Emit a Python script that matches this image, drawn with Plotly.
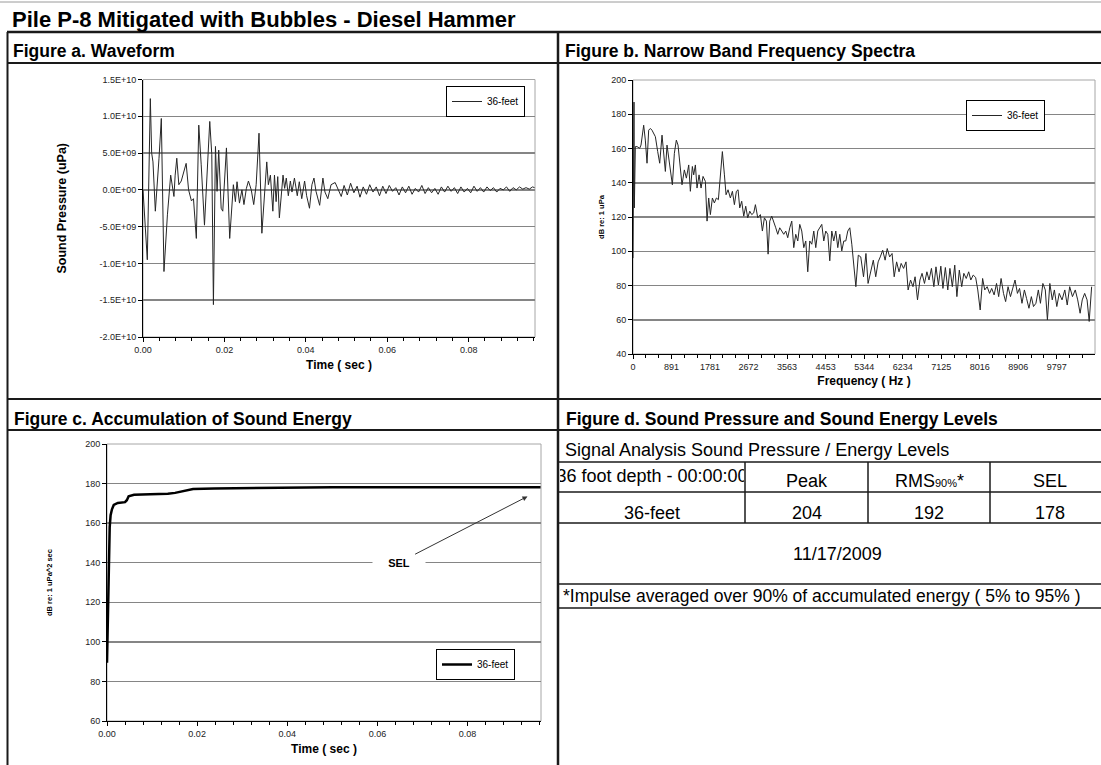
import plotly.graph_objects as go

W, H = 1101, 765
FONT = "Liberation Sans, Arial, sans-serif"


def px(x):
    return x / W


def py(y):
    return 1 - y / H


# ---------------- data ----------------
series_name = "36-feet"

# Figure a: waveform (time in s, pressure in units of 1e9 uPa)
wave_t = [0, 0.00057, 0.00106, 0.0018, 0.00213, 0.00245, 0.00303, 0.00393, 0.0045, 0.00515,
          0.006, 0.0068, 0.0073, 0.0076, 0.0079, 0.0083, 0.0088, 0.0094, 0.0106, 0.0112,
          0.0119, 0.0124, 0.0131, 0.0137, 0.0143, 0.0151, 0.0164, 0.0169, 0.0173, 0.0178,
          0.0182, 0.0186, 0.0192, 0.0196, 0.0205, 0.0213, 0.0222, 0.0227, 0.0231, 0.0237,
          0.0243, 0.0248, 0.0254, 0.0259, 0.0266, 0.0272, 0.0278, 0.0285, 0.0292, 0.0297,
          0.0301, 0.0304, 0.0308, 0.0313, 0.0319, 0.0323, 0.0327, 0.0331, 0.0335, 0.0344,
          0.0348, 0.0352, 0.0357, 0.0362, 0.0366, 0.0372, 0.0379, 0.0384, 0.039, 0.0397,
          0.0402, 0.0409, 0.0415, 0.042, 0.0425, 0.0434, 0.0442, 0.0447, 0.0454, 0.0462,
          0.0472, 0.0479, 0.0487, 0.0494, 0.0502, 0.0510, 0.0518, 0.0526, 0.0533, 0.0541,
          0.0549, 0.0557, 0.0565, 0.0573, 0.0581, 0.0589, 0.0597, 0.0605, 0.0613, 0.0621,
          0.0629, 0.0637, 0.0645, 0.0653, 0.0661, 0.0669, 0.0677, 0.0685, 0.0693, 0.0701,
          0.0709, 0.0717, 0.0725, 0.0733, 0.0741, 0.0749, 0.0757, 0.0765, 0.0773, 0.0781,
          0.0789, 0.0797, 0.0805, 0.0813, 0.0821, 0.0829, 0.0837, 0.0845, 0.0853, 0.0861,
          0.0869, 0.0877, 0.0885, 0.0893, 0.0901, 0.0909, 0.0917, 0.0925, 0.0933, 0.0941,
          0.0949, 0.0957, 0.0962]
wave_p_e9 = [0, -4.75, -9.5, 12.4, 5.0, 3.8, -2.9, 4.3, 9.7, -11.1,
             -3.4, 2.0, -0.2, -0.9, 2.0, 4.3, 0.7, 1.2, 3.6, 0.0,
             -1.5, -1.2, -6.6, 8.8, 3.4, -4.8, 9.3, 4.8, -15.6, 5.9,
             -0.2, 5.4, -2.5, -2.9, 5.7, -6.6, 0.7, -1.6, 1.1, -1.8,
             0.0, -2.0, 0.2, 1.2, 0.0, -2.0, 0.7, 7.7, -5.9, -1.6,
             2.0, 3.8, 0.7, 2.0, -2.9, 2.0, -1.6, 1.8, -3.8, 2.0,
             0.2, 1.6, -0.8, 1.2, -0.3, 1.6, -0.8, 1.1, -1.2, 1.2,
             -0.8, -2.5, 0.7, 1.6, -0.2, -2.1, 1.6, -0.3, -1.2, 0.7,
             1.0, 0.0, -0.9, 0.6, -0.7, 0.9, -0.4, 0.5, -1.0, 0.4,
             -0.6, 0.7, -0.3, 0.4, -0.8, 0.5, -0.5, 0.6, -0.2, 0.3,
             -0.7, 0.4, -0.4, 0.5, -0.6, 0.2, -0.3, 0.6, -0.5, 0.3,
             -0.4, 0.2, -0.6, 0.4, -0.3, 0.5, -0.2, 0.3, -0.5, 0.4,
             -0.3, 0.2, -0.4, 0.5, -0.2, 0.3, -0.3, 0.4, -0.1, 0.3,
             -0.3, 0.2, 0.0, 0.4, -0.2, 0.3, 0.0, 0.4, 0.1, 0.3,
             0.1, 0.4, 0.3]

# Figure b: narrow band spectrum (Hz, dB re 1 uPa)
spec_f = [0, 23, 31, 46, 54, 93, 154, 185, 247, 285,
          324, 362, 401, 439, 478, 517, 571, 617, 671, 709,
          748, 786, 833, 879, 910, 956, 1002, 1041, 1095, 1133,
          1187, 1234, 1288, 1326, 1372, 1403, 1442, 1480, 1527, 1573,
          1619, 1673, 1712, 1750, 1789, 1835, 1881, 1928, 1974, 2020,
          2066, 2113, 2151, 2197, 2251, 2298, 2344, 2390, 2429, 2467,
          2513, 2560, 2606, 2652, 2699, 2745, 2791, 2830, 2884, 2945,
          2991, 3038, 3084, 3123, 3161, 3207, 3254, 3300, 3346, 3392,
          3439, 3485, 3531, 3577, 3624, 3670, 3716, 3762, 3809, 3855,
          3901, 3948, 3994, 4040, 4086, 4133, 4179, 4225, 4271, 4318,
          4364, 4410, 4456, 4503, 4549, 4595, 4641, 4688, 4734, 4780,
          4826, 4873, 4919, 4965, 5012, 5058, 5088, 5152, 5208, 5265,
          5329, 5385, 5434, 5490, 5555, 5611, 5667, 5716, 5772, 5828,
          5877, 5933, 5989, 6038, 6094, 6150, 6199, 6255, 6311, 6360,
          6416, 6472, 6521, 6577, 6633, 6682, 6738, 6794, 6843, 6899,
          6955, 7004, 7060, 7116, 7165, 7221, 7277, 7326, 7382, 7438,
          7487, 7543, 7599, 7648, 7704, 7760, 7809, 7865, 7921, 7970,
          8026, 8082, 8131, 8187, 8243, 8292, 8348, 8404, 8453, 8509,
          8565, 8614, 8670, 8726, 8775, 8831, 8887, 8936, 8992, 9048,
          9097, 9153, 9209, 9258, 9314, 9370, 9419, 9475, 9531, 9580,
          9636, 9692, 9741, 9797, 9853, 9918, 9982, 10038, 10095, 10159,
          10224, 10280, 10336, 10385, 10441, 10497, 10546, 10602]
spec_db = [96.0, 187.1, 125.3, 160.0, 161.1, 161.1, 160.1, 162.0, 173.6, 164.9,
           151.4, 170.7, 171.7, 170.7, 168.8, 166.9, 158.2, 151.4, 167.8, 159.1,
           146.6, 162.0, 154.3, 144.6, 138.8, 157.2, 164.9, 162.0, 146.6, 138.8,
           147.5, 142.7, 150.4, 135.0, 149.5, 144.6, 150.4, 136.9, 144.6, 136.9,
           143.7, 140.8, 117.6, 131.1, 121.4, 131.1, 128.2, 131.1, 130.1, 142.7,
           158.2, 144.6, 133.0, 135.9, 131.1, 135.0, 127.2, 135.0, 135.9, 125.3,
           129.2, 120.5, 126.3, 119.5, 123.4, 121.4, 122.4, 127.2, 119.5, 121.4,
           111.8, 119.5, 117.6, 98.3, 117.6, 120.5, 117.6, 113.7, 109.9, 113.7,
           111.8, 109.9, 111.8, 107.9, 113.7, 117.6, 102.1, 109.9, 106.0, 115.7,
           111.8, 102.1, 106.0, 88.0, 106.0, 104.1, 111.8, 102.1, 111.8, 113.7,
           115.7, 106.0, 111.8, 109.9, 94.4, 111.8, 106.0, 111.8, 102.1, 109.9,
           100.2, 106.0, 106.0, 111.8, 113.7, 104.1, 96.7, 79.3, 97.7, 96.7,
           85.1, 98.7, 81.2, 87.1, 94.8, 85.1, 93.8, 96.7, 100.6, 94.8,
           101.6, 96.7, 98.7, 85.1, 93.8, 88.0, 92.9, 90.0, 93.8, 77.4,
           83.2, 79.3, 85.1, 71.6, 83.2, 87.1, 81.2, 88.0, 83.2, 90.0,
           79.3, 90.9, 80.3, 91.3, 78.3, 90.5, 77.4, 90.0, 79.3, 91.9,
           73.5, 89.0, 79.3, 87.1, 84.1, 88.0, 83.2, 86.1, 84.7, 77.4,
           65.7, 84.1, 77.4, 79.3, 75.4, 78.3, 74.5, 81.2, 73.5, 84.1,
           75.4, 70.6, 79.3, 73.5, 77.4, 83.2, 75.4, 78.3, 69.6, 77.4,
           72.5, 66.7, 73.5, 67.7, 69.6, 77.4, 69.6, 81.2, 77.4, 59.9,
           81.2, 71.6, 77.4, 67.7, 75.4, 71.6, 77.4, 68.6, 79.3, 73.5,
           77.4, 71.6, 63.8, 71.6, 75.4, 71.6, 59.0, 79.3]

# Figure c: accumulated sound energy (s, dB re 1 uPa^2 sec)
acc_t = [0, 0.0002, 0.0004, 0.0006, 0.0008, 0.0011, 0.0015, 0.0024, 0.004, 0.0044,
         0.0048, 0.006, 0.0096, 0.0135, 0.0151, 0.0167, 0.0179, 0.0191, 0.0238, 0.0334,
         0.0397, 0.05, 0.06, 0.07, 0.08, 0.09, 0.0962]
acc_db = [89.5, 118.0, 145.0, 158.0, 164.0, 167.0, 169.2, 170.2, 170.6, 171.6,
          173.6, 174.3, 174.6, 174.8, 175.3, 176.0, 176.9, 177.3, 177.5, 177.8,
          178.0, 178.1, 178.1, 178.1, 178.1, 178.1, 178.1]

# tick labels
wave_ticks = [-2e10, -1.5e10, -1e10, -5e9, 0, 5e9, 1e10, 1.5e10]
wave_ticktext = ["-2.0E+10", "-1.5E+10", "-1.0E+10", "-5.0E+09", "0.0E+00",
                 "5.0E+09", "1.0E+10", "1.5E+10"]
time_ticks = [0, 0.02, 0.04, 0.06, 0.08]
time_ticktext = ["0.00", "0.02", "0.04", "0.06", "0.08"]
freq_ticks = [0, 890.6, 1781.2, 2671.8, 3562.4, 4453.0, 5343.6, 6234.2, 7124.8, 8015.4, 8906.0, 9796.6]
freq_ticktext = ["0", "891", "1781", "2672", "3563", "4453", "5344", "6234", "7125", "8016", "8906", "9797"]

# Figure d: table
table_header = ["Peak", "RMS<span style='font-size:11px'>90%</span>*", "SEL"]
table_row_label = "36-feet"
table_values = ["204", "192", "178"]
table_cell0 = "36 foot depth - 00:00:00"
table_date = "11/17/2009"
table_note = "*Impulse averaged over 90% of accumulated energy ( 5% to 95% )"

# ---------------- figure ----------------
fig = go.Figure()
fig.add_trace(go.Scatter(x=wave_t, y=[v * 1e9 for v in wave_p_e9], mode="lines",
                         line=dict(color="#262626", width=1), name=series_name,
                         xaxis="x", yaxis="y", legend="legend", hoverinfo="skip"))
fig.add_trace(go.Scatter(x=spec_f, y=spec_db, mode="lines",
                         line=dict(color="#262626", width=1), name=series_name,
                         xaxis="x2", yaxis="y2", legend="legend2", hoverinfo="skip"))
fig.add_trace(go.Scatter(x=acc_t, y=acc_db, mode="lines",
                         line=dict(color="black", width=2.5), name=series_name,
                         xaxis="x3", yaxis="y3", legend="legend3", hoverinfo="skip"))
fig.add_trace(go.Scatter(x=[0.5], y=[0.5], mode="text", text=[table_cell0],
                         textposition="middle center",
                         textfont=dict(size=18, family=FONT, color="black"),
                         cliponaxis=True, showlegend=False, hoverinfo="skip",
                         xaxis="x4", yaxis="y4"))

tickfont = dict(size=9, family=FONT, color="#222")
base_x = dict(showline=True, linecolor="black", linewidth=1, ticks="outside", ticklen=4,
              tickcolor="black", tickfont=tickfont, showgrid=False, zeroline=False,
              fixedrange=True, automargin=False)
base_y = dict(showline=True, linecolor="black", linewidth=1, ticks="outside", ticklen=4,
              tickcolor="black", tickfont=tickfont, showgrid=True, gridcolor="#858585",
              gridwidth=1.5, zeroline=False, fixedrange=True, automargin=False)


def title(text, size, standoff):
    return dict(text="<b>" + text + "</b>", font=dict(size=size, family=FONT, color="black"),
                standoff=standoff)


layout = dict(
    width=W, height=H, margin=dict(l=0, r=0, t=0, b=0, pad=0, autoexpand=False),
    paper_bgcolor="white", plot_bgcolor="white",
    font=dict(family=FONT, color="black"),
    xaxis=dict(base_x, domain=[px(143), px(535)], range=[0, 0.0963], anchor="y",
               tickvals=time_ticks, ticktext=time_ticktext,
               minor=dict(ticks="outside", dtick=0.004, tick0=0, ticklen=3, tickcolor="black"),
               title=title("Time ( sec )", 12, 6)),
    yaxis=dict(base_y, domain=[py(337), py(79.5)], range=[-2e10, 1.5e10], anchor="x",
               tickvals=wave_ticks, ticktext=wave_ticktext,
               title=title("Sound Pressure (uPa)", 12.5, 30)),
    xaxis2=dict(base_x, domain=[px(633), px(1095)], range=[0, 10680], anchor="y2",
                tickvals=freq_ticks, ticktext=freq_ticktext,
                minor=dict(ticks="outside", dtick=296.87, tick0=0, ticklen=3, tickcolor="black"),
                title=title("Frequency ( Hz )", 12, 5)),
    yaxis2=dict(base_y, domain=[py(354), py(80)], range=[40, 200], dtick=20, anchor="x2",
                title=title("dB re: 1 uPa", 7.5, 5)),
    xaxis3=dict(base_x, domain=[px(107), px(541)], range=[0, 0.0963], anchor="y3",
                tickvals=time_ticks, ticktext=time_ticktext,
                minor=dict(ticks="outside", dtick=0.004, tick0=0, ticklen=3, tickcolor="black"),
                title=title("Time ( sec )", 12, 6)),
    yaxis3=dict(base_y, domain=[py(721), py(444)], range=[60, 200], dtick=20, anchor="x3",
                title=title("dB re: 1 uPa^2 sec", 7.5, 31)),
    xaxis4=dict(domain=[px(560), px(744)], range=[0, 1], visible=False, fixedrange=True,
                anchor="y4", automargin=False),
    yaxis4=dict(domain=[py(491), py(463)], range=[0, 1], visible=False, fixedrange=True,
                anchor="x4", automargin=False),
)

legend_style = dict(xanchor="left", yanchor="top", bordercolor="black", borderwidth=1,
                    bgcolor="white", itemwidth=30,
                    font=dict(size=10, family=FONT, color="black"))
layout["legend"] = dict(legend_style, x=px(446), y=py(86))
layout["legend2"] = dict(legend_style, x=px(966), y=py(100))
layout["legend3"] = dict(legend_style, x=px(436), y=py(649))

fig.update_layout(**layout)

# plot-area frames (Excel style light border)
shapes = []
for xr, yr in [("x", "y"), ("x2", "y2"), ("x3", "y3")]:
    shapes.append(dict(type="rect", xref=xr + " domain", yref=yr + " domain", x0=0, x1=1, y0=0, y1=1,
                       line=dict(color="#a6a6a6", width=1), layer="below"))


def hline(y, x0, x1, width=2, color="#1a1a1a"):
    shapes.append(dict(type="line", xref="paper", yref="paper", x0=px(x0), x1=px(x1),
                       y0=py(y), y1=py(y), line=dict(color=color, width=width)))


def vline(x, y0, y1, width=2, color="#1a1a1a"):
    shapes.append(dict(type="line", xref="paper", yref="paper", x0=px(x), x1=px(x),
                       y0=py(y0), y1=py(y1), line=dict(color=color, width=width)))


hline(2, 0, W, 1, "#9a9a9a")
hline(32, 7, W, 2.5)
hline(63, 7, W, 2)
hline(399, 7, W, 2)
hline(430, 7, W, 2)
vline(7.5, 32, H, 2)
vline(558, 32, H, 2.5)
for yy in [462, 492, 523, 584, 608]:
    hline(yy, 558, W, 1.5)
for xx in [745, 868, 990]:
    vline(xx, 462, 523, 1.5)

fig.update_layout(shapes=shapes)

ann = []


def text(x, y, s, size, bold=False, anchor="left"):
    ann.append(dict(x=px(x), y=py(y), xref="paper", yref="paper", showarrow=False,
                    xanchor=anchor, yanchor="middle",
                    text=("<b>" + s + "</b>") if bold else s,
                    font=dict(size=size, family=FONT, color="black")))


text(10, 19, "Pile P-8 Mitigated with Bubbles - Diesel Hammer", 22, True)
text(11, 51, "Figure a. Waveform", 17.5, True)
text(563, 51, "Figure b. Narrow Band Frequency Spectra", 17.5, True)
text(12, 419, "Figure c. Accumulation of Sound Energy", 17.5, True)
text(564, 419, "Figure d. Sound Pressure and Sound Energy Levels", 17.5, True)
text(563, 450, "Signal Analysis Sound Pressure / Energy Levels", 18)
for cx, h, v in zip([806.5, 929, 1050], table_header, table_values):
    text(cx, 481, h, 18, anchor="center")
    text(cx, 513, v, 18, anchor="center")
text(652, 513, table_row_label, 18, anchor="center")
text(837, 554, table_date, 18, anchor="center")
text(561, 596, table_note, 17.5)

# SEL callout on figure c
ann.append(dict(x=0.0933, y=173.5, xref="x3", yref="y3", ax=0.0647, ay=140, axref="x3", ayref="y3",
                text="<b>SEL</b>", showarrow=True, arrowhead=2, arrowsize=1, arrowwidth=1,
                arrowcolor="#333", bgcolor="white", width=50, height=14,
                font=dict(size=11, family=FONT, color="black")))

fig.update_layout(annotations=ann)

fig.write_html(
    "out.html",
    config={"displayModeBar": False, "staticPlot": True},
    post_script="document.body.style.margin='0';document.body.style.padding='0';"
                "document.documentElement.style.overflow='hidden';",
)
